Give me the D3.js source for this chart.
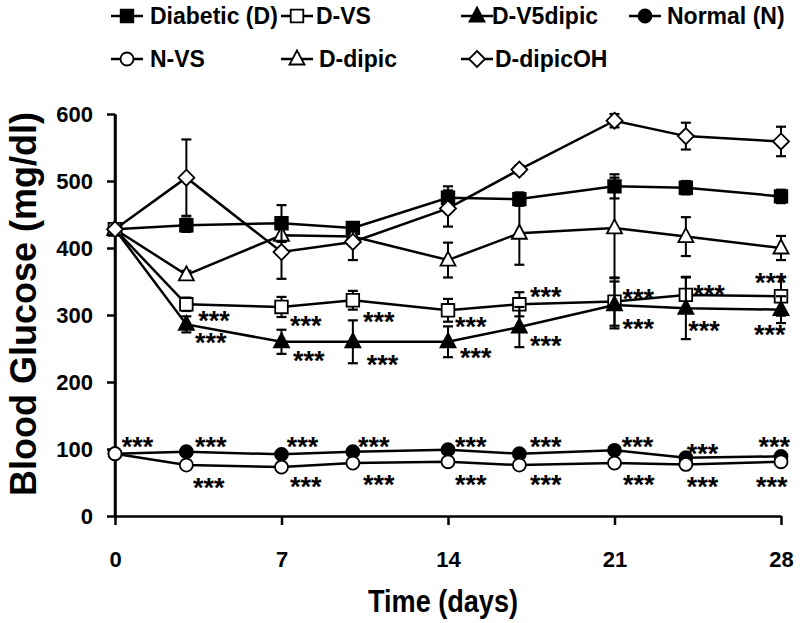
<!DOCTYPE html>
<html>
<head>
<meta charset="utf-8">
<script src="https://cdn.jsdelivr.net/npm/d3@7"></script>
<style>
  html, body { margin: 0; padding: 0; background: #fff; }
  svg { display: block; }
  text { font-family: "Liberation Sans", Arial, sans-serif; font-weight: bold; fill: #000; }
</style>
</head>
<body>
<svg id="chart" width="800" height="623"></svg>
<script>
// ---- Data ----
const days = [0, 3, 7, 10, 14, 17, 21, 24, 28];
const xTicks = [0, 7, 14, 21, 28];
const yTicks = [0, 100, 200, 300, 400, 500, 600];

const diabetic      = [428, 434, 437, 430, 475, 473, 492, 490, 477];
const diabeticErr   = [0, 10, 27, 8, 17, 10, 18, 10, 10];
const dVS           = [428, 316, 312, 322, 307, 316, 320, 330, 328];
const dVSErr        = [0, 10, 15, 14, 17, 18, 36, 27, 29];
const dV5dipic      = [428, 286, 260, 260, 260, 282, 315, 310, 308];
const dV5dipicErr   = [0, 12, 18, 32, 23, 30, 35, 46, 20];
const normal        = [93, 96, 92, 96, 99, 93, 98, 87, 89];
const normalErr     = [0, 0, 0, 0, 0, 0, 0, 0, 0];
const nVS           = [93, 76, 73, 79, 81, 76, 79, 77, 81];
const nVSErr        = [0, 0, 0, 0, 0, 0, 0, 0, 0];
const dDipic        = [428, 360, 419, 417, 382, 422, 430, 417, 400];
const dDipicErr     = [0, 6, 10, 8, 26, 47, 75, 29, 18];
const dDipicOH      = [428, 505, 394, 409, 459, 517, 590, 567, 559];
const dDipicOHErr   = [0, 57, 40, 27, 27, 6, 10, 20, 22];

const seriesLabels  = ["Diabetic (D)", "D-VS", "D-V5dipic", "Normal (N)", "N-VS", "D-dipic", "D-dipicOH"];

// significance marks "***" placed at [day, glucose] of their left/centre
const starsNormal   = [[0.28,112],[3.36,112],[7.22,112],[10.22,112],[14.29,112],[17.45,112],[21.3,112],[24.04,102],[27.05,112]];
const starsNVS      = [[3.28,51],[7.36,52],[10.43,56],[14.29,56],[17.45,56],[21.36,56],[24.04,52],[26.95,52]];
const starsDVS      = [[3.5,300],[7.36,292],[10.43,298],[14.29,291],[17.45,336],[21.34,333],[24.31,339],[26.91,357]];
const starsDV5      = [[3.36,268],[7.48,240],[10.58,235],[14.5,245],[17.45,263],[21.34,288],[24.1,286],[26.86,280]];

// ---- Setup ----
const svg = d3.select("#chart");
const x = d3.scaleLinear().domain([0, 28]).range([115, 781]);
const y = d3.scaleLinear().domain([0, 600]).range([516, 114]);

const series = [
  { name: seriesLabels[0], values: diabetic, err: diabeticErr, shape: "square",   fill: "#000" },
  { name: seriesLabels[1], values: dVS,      err: dVSErr,      shape: "square",   fill: "#fff" },
  { name: seriesLabels[2], values: dV5dipic, err: dV5dipicErr, shape: "triangle", fill: "#000" },
  { name: seriesLabels[3], values: normal,   err: normalErr,   shape: "circle",   fill: "#000" },
  { name: seriesLabels[4], values: nVS,      err: nVSErr,      shape: "circle",   fill: "#fff" },
  { name: seriesLabels[5], values: dDipic,   err: dDipicErr,   shape: "triangle", fill: "#fff" },
  { name: seriesLabels[6], values: dDipicOH, err: dDipicOHErr, shape: "diamond",  fill: "#fff" }
];

function markerPath(shape) {
  const p = d3.path();
  if (shape === "square") { p.rect(-6.3, -6.3, 12.6, 12.6); }
  else if (shape === "triangle") { p.moveTo(0, -8.5); p.lineTo(7.5, 5.5); p.lineTo(-7.5, 5.5); p.closePath(); }
  else if (shape === "diamond") { p.moveTo(0, -8); p.lineTo(8, 0); p.lineTo(0, 8); p.lineTo(-8, 0); p.closePath(); }
  else { p.arc(0, 0, 6.5, 0, 2 * Math.PI); }
  return p.toString();
}

// ---- Axes ----
const yAxis = d3.axisLeft(y).tickValues(yTicks).tickSize(8).tickSizeOuter(0).tickPadding(14);
const gy = svg.append("g").attr("transform", `translate(${x(0)},0)`).call(yAxis);
const xAxis = d3.axisBottom(x).tickValues(xTicks).tickSize(9).tickSizeOuter(0).tickPadding(26);
const gx = svg.append("g").attr("transform", `translate(0,${y(0)})`).call(xAxis);
[gx, gy].forEach(g => {
  g.select(".domain").attr("stroke", "#000").attr("stroke-width", 2.5);
  g.selectAll(".tick line").attr("stroke", "#000").attr("stroke-width", 2.5);
  g.selectAll(".tick text").style("font-size", "22px").style("font-family", "'Liberation Sans', Arial, sans-serif").style("font-weight", "bold").attr("fill", "#000");
});
// extend the y axis line through the origin
svg.append("line").attr("x1", x(0)).attr("x2", x(0)).attr("y1", y(600)).attr("y2", y(0) + 1)
  .attr("stroke", "#000").attr("stroke-width", 2.5);

// Axis titles
svg.append("text").attr("x", 443).attr("y", 612).attr("text-anchor", "middle")
  .style("font-size", "32px").attr("textLength", 150).attr("lengthAdjust", "spacingAndGlyphs")
  .text("Time (days)");
svg.append("text").attr("transform", "translate(36,304) rotate(-90)").attr("text-anchor", "middle")
  .style("font-size", "36px").text("Blood Glucose (mg/dl)");

// ---- Series ----
const line = d3.line().x((d, i) => x(days[i])).y(d => y(d));
series.forEach(s => {
  const g = svg.append("g");
  g.append("path").attr("d", line(s.values)).attr("fill", "none").attr("stroke", "#000").attr("stroke-width", 2.5);
  const eb = g.selectAll(".eb").data(s.values.map((v, i) => ({ v, e: s.err[i], d: days[i] })).filter(d => d.e > 0))
    .enter().append("g");
  eb.append("line").attr("x1", d => x(d.d)).attr("x2", d => x(d.d)).attr("y1", d => y(d.v - d.e)).attr("y2", d => y(d.v + d.e))
    .attr("stroke", "#000").attr("stroke-width", 2);
  eb.append("line").attr("x1", d => x(d.d) - 5).attr("x2", d => x(d.d) + 5).attr("y1", d => y(d.v + d.e)).attr("y2", d => y(d.v + d.e))
    .attr("stroke", "#000").attr("stroke-width", 2.2);
  eb.append("line").attr("x1", d => x(d.d) - 5).attr("x2", d => x(d.d) + 5).attr("y1", d => y(d.v - d.e)).attr("y2", d => y(d.v - d.e))
    .attr("stroke", "#000").attr("stroke-width", 2.2);
  g.selectAll(".m").data(s.values).enter().append("path")
    .attr("d", markerPath(s.shape))
    .attr("transform", (d, i) => `translate(${x(days[i])},${y(d)})`)
    .attr("fill", s.fill).attr("stroke", "#000").attr("stroke-width", 1.8);
});

// ---- Significance stars ----
const starFont = 27;
[starsNormal, starsNVS, starsDVS, starsDV5].forEach(list => {
  svg.append("g").selectAll("text").data(list).enter().append("text")
    .attr("x", d => x(d[0])).attr("y", d => y(d[1]) + 0.56 * starFont)
    .style("font-size", starFont + "px").text("***");
});

// ---- Legend ----
const legendCols = [127, 297, 477, 645];
const legendTextX = [150, 316, 492, 667];
const legendRows = [16, 59];
series.forEach((s, i) => {
  const c = i < 4 ? i : i - 4;
  const r = i < 4 ? 0 : 1;
  const g = svg.append("g").attr("transform", `translate(${legendCols[c]},${legendRows[r]})`);
  g.append("line").attr("x1", -16).attr("x2", 16).attr("stroke", "#000").attr("stroke-width", 2.5);
  g.append("path").attr("d", markerPath(s.shape)).attr("fill", s.fill).attr("stroke", "#000").attr("stroke-width", 1.8);
  svg.append("text").attr("x", legendTextX[c] + (r === 1 && c > 0 ? 3 : 0)).attr("y", legendRows[r] + 8)
    .style("font-size", "23px").text(s.name);
});
</script>
</body>
</html>
